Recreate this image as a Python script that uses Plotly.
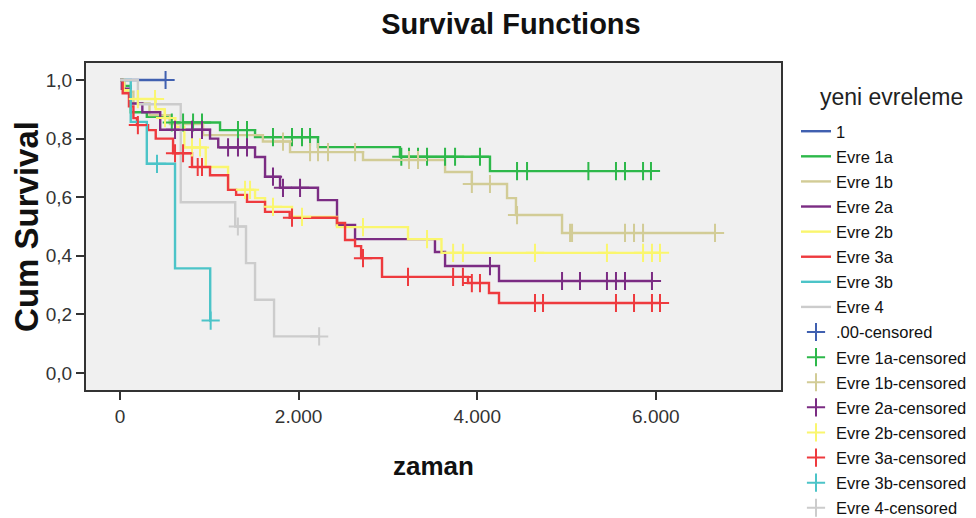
import plotly.graph_objects as go

# ---------------- data ----------------
group_names = ["1", "Evre 1a", "Evre 1b", "Evre 2a", "Evre 2b", "Evre 3a", "Evre 3b", "Evre 4"]
censor_names = [".00-censored", "Evre 1a-censored", "Evre 1b-censored", "Evre 2a-censored",
                "Evre 2b-censored", "Evre 3a-censored", "Evre 3b-censored", "Evre 4-censored"]

# event times and survival level after each step
t_g1 = [0]
s_g1 = [1.0]
c_g1 = [510]

t_1a = [0, 30, 120, 300, 560, 1120, 1512, 2217, 3135, 4143]
s_1a = [1.0, 0.98, 0.89, 0.874, 0.855, 0.829, 0.805, 0.771, 0.738, 0.689]
c_1a = [580, 706, 818, 918, 1321, 1422, 1713, 1926, 2038, 2128, 3150, 3236, 3337, 3438,
        3640, 3752, 4031, 4446, 4558, 5245, 5554, 5655, 5857, 5946]

t_1b = [0, 50, 150, 330, 560, 930, 1600, 1904, 2721, 3640, 3940, 4334, 4434, 4950]
s_1b = [1.0, 0.96, 0.92, 0.88, 0.85, 0.812, 0.79, 0.754, 0.727, 0.686, 0.645, 0.597, 0.539, 0.478]
c_1b = [1825, 2128, 2217, 2329, 2632, 3236, 3337, 3940, 4143, 4446, 5040, 5062, 5655, 5756, 5857, 6663]

t_2a = [0, 20, 120, 250, 450, 1008, 1100, 1512, 1624, 1792, 2217, 2430, 2632, 3527, 3640, 4244]
s_2a = [1.0, 0.97, 0.92, 0.89, 0.83, 0.80, 0.77, 0.737, 0.67, 0.632, 0.59, 0.505, 0.457, 0.413, 0.365, 0.314]
c_2a = [616, 806, 918, 1210, 1321, 1422, 1713, 1825, 2016, 4143, 4950, 5151, 5453, 5554, 5655, 5957]

t_2b = [0, 40, 120, 400, 500, 620, 720, 960, 1210, 1512, 1624, 1926, 2430, 3225, 3600]
s_2b = [1.0, 0.965, 0.935, 0.90, 0.87, 0.84, 0.77, 0.703, 0.625, 0.597, 0.567, 0.533, 0.498, 0.457, 0.41]
c_2b = [200, 392, 504, 806, 896, 1400, 1456, 1713, 2038, 2721, 3438, 3730, 3840, 4647,
        5453, 5857, 5957, 6047]

t_3a = [0, 30, 100, 150, 190, 314, 400, 594, 806, 1008, 1210, 1300, 1422, 1624, 1900,
        2430, 2520, 2632, 2700, 2934, 3897, 4132, 4244]
s_3a = [1.0, 0.955, 0.91, 0.87, 0.846, 0.829, 0.80, 0.75, 0.703, 0.675, 0.625, 0.608, 0.584,
        0.55, 0.53, 0.512, 0.454, 0.433, 0.392, 0.328, 0.307, 0.273, 0.239]
c_3a = [200, 616, 706, 870, 918, 1926, 2721, 3225, 3730, 3840, 3940, 4031, 4647, 4737,
        5554, 5756, 5957, 6047]

t_3b = [0, 120, 300, 616, 1010]
s_3b = [1.0, 0.857, 0.714, 0.357, 0.179]
c_3b = [414, 1015]

t_g4 = [0, 200, 680, 1290, 1411, 1512, 1725]
s_g4 = [1.0, 0.917, 0.583, 0.5, 0.375, 0.25, 0.125]
c_g4 = [1320, 2230]

colors = ["#4060B0", "#2DB84A", "#D2CC96", "#7B2C83", "#FAF66E", "#EE3A3E", "#4CC4C8", "#CCCCCC"]

x_tickvals = [0, 2000, 4000, 6000]
x_ticktext = ["0", "2.000", "4.000", "6.000"]
y_tickvals = [0.0, 0.2, 0.4, 0.6, 0.8, 1.0]
y_ticktext = ["0,0", "0,2", "0,4", "0,6", "0,8", "1,0"]

series = [(t_g1, s_g1, c_g1), (t_1a, s_1a, c_1a), (t_1b, s_1b, c_1b), (t_2a, s_2a, c_2a),
          (t_2b, s_2b, c_2b), (t_3a, s_3a, c_3a), (t_3b, s_3b, c_3b), (t_g4, s_g4, c_g4)]


def surv_at(times, surv, t):
    val = surv[0]
    for ti, si in zip(times, surv):
        if ti <= t:
            val = si
    return val


FONT = "Liberation Sans, Arial, sans-serif"
W, H = 968, 510  # page body has an 8px margin
fig = go.Figure()

# step lines
for name, col, (tt, ss, cc) in zip(group_names, colors, series):
    end = max(tt[-1], max(cc) if cc else tt[-1])
    fig.add_trace(go.Scatter(
        x=tt + [end], y=ss + [ss[-1]], mode="lines", name=name, legendgroup=name,
        line=dict(color=col, width=2.4, shape="hv"),
    ))

# censored marks
for name, col, (tt, ss, cc) in zip(censor_names, colors, series):
    fig.add_trace(go.Scatter(
        x=cc, y=[surv_at(tt, ss, c) for c in cc], mode="markers", name=name, legendgroup=name,
        marker=dict(symbol="cross-thin", size=13, color=col, line=dict(color=col, width=2)),
    ))

fig.update_layout(
    width=W, height=H,
    margin=dict(l=78, r=195, t=55, b=128, autoexpand=False),
    paper_bgcolor="white", plot_bgcolor="#F0F0F0",
    font=dict(family=FONT, color="#222222"),
    title=dict(text="<b>Survival Functions</b>", x=503 / W, xanchor="center",
               y=1 - 16 / H, yanchor="middle", font=dict(size=29, family=FONT, color="#111111")),
    showlegend=True,
    legend=dict(xref="container", yref="container", x=788 / W, xanchor="left",
                y=1 - 106 / H, yanchor="top", maxheight=600,
                font=dict(size=16.5, family=FONT, color="#111111"),
                bgcolor="rgba(0,0,0,0)", traceorder="grouped", tracegroupgap=0.65),
    annotations=[dict(text="yeni evreleme", xref="paper", yref="paper", x=1.053, y=0.896,
                      xanchor="left", yanchor="middle", showarrow=False,
                      font=dict(size=23, family=FONT, color="#222222"))],
)

fig.update_xaxes(
    range=[-381, 7402], tickvals=x_tickvals, ticktext=x_ticktext,
    showgrid=False, zeroline=False,
    showline=True, mirror=True, linecolor="#333333", linewidth=2,
    ticks="outside", ticklen=8, tickwidth=2, tickcolor="#333333",
    tickfont=dict(size=19, family=FONT, color="#333333"),
    title=dict(text="<b>zaman</b>", font=dict(size=26, family=FONT, color="#111111"), standoff=31),
)
fig.update_yaxes(
    range=[-0.058, 1.058], tickvals=y_tickvals, ticktext=y_ticktext,
    showgrid=False, zeroline=False,
    showline=True, mirror=True, linecolor="#333333", linewidth=2,
    ticks="outside", ticklen=8, tickwidth=2, tickcolor="#333333",
    tickfont=dict(size=19, family=FONT, color="#333333"),
    title=dict(text="<b>Cum Survival</b>", font=dict(size=33, family=FONT, color="#111111"), standoff=15),
)

fig.write_html("out.html")
